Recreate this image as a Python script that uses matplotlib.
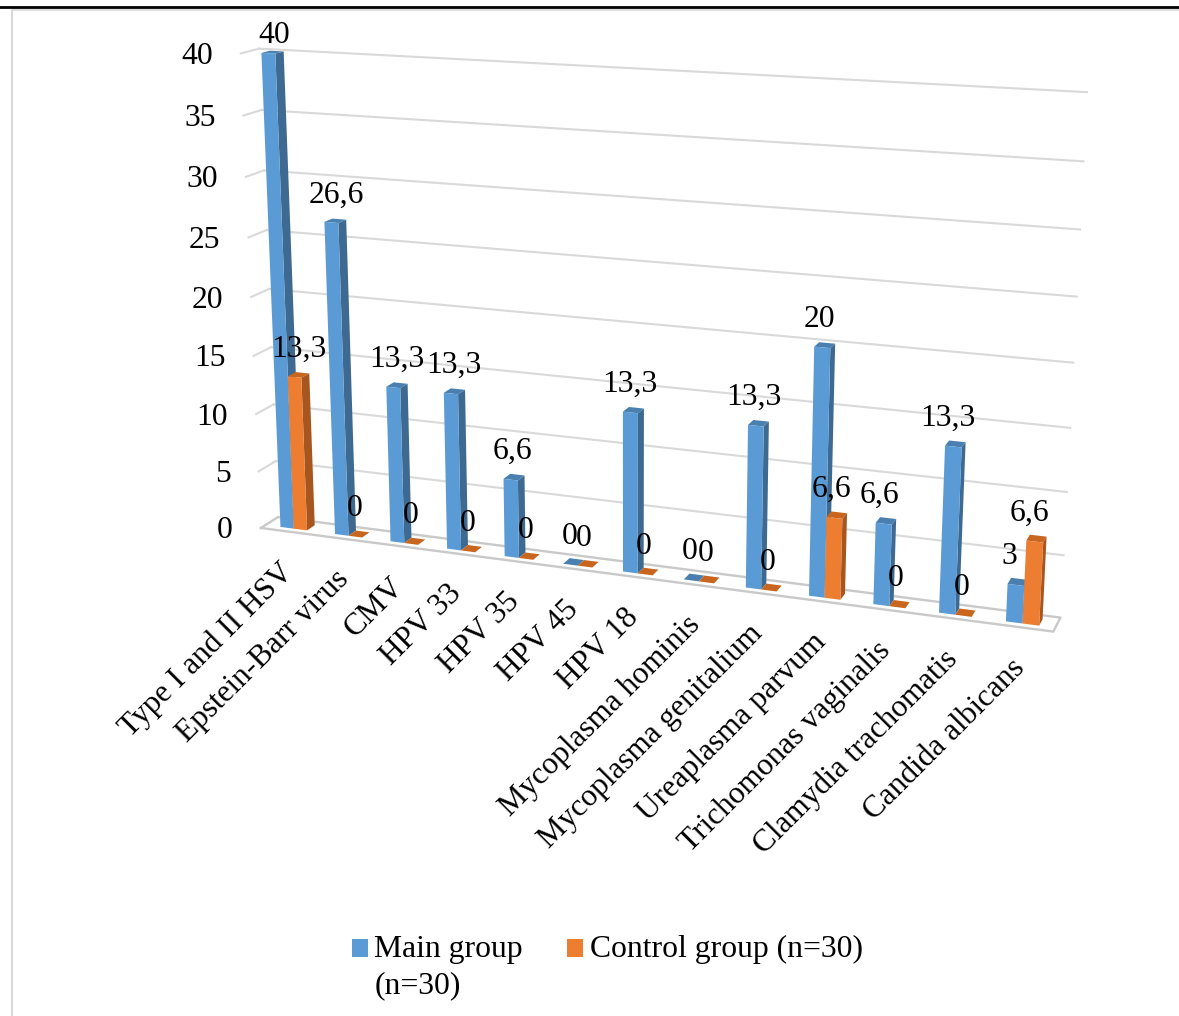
import numpy as np
import matplotlib
matplotlib.use('Agg')
import matplotlib.pyplot as plt
from matplotlib.patches import Rectangle

plt.rcParams['font.family'] = ['Liberation Serif', 'DejaVu Serif']

categories = ['Type I and II HSV', 'Epstein-Barr virus', 'CMV', 'HPV 33', 'HPV 35',
              'HPV 45', 'HPV 18', 'Mycoplasma hominis', 'Mycoplasma genitalium',
              'Ureaplasma parvum', 'Trichomonas vaginalis', 'Clamydia trachomatis',
              'Candida albicans']
main_group = [40, 26.6, 13.3, 13.3, 6.6, 0, 13.3, 0, 13.3, 20, 6.6, 13.3, 3]
control_group = [13.3, 0, 0, 0, 0, 0, 0, 0, 0, 6.6, 0, 0, 6.6]
value_ticks = [0, 5, 10, 15, 20, 25, 30, 35, 40]

W, H = 1179, 1016
FS = 22.8
GRID = '#D9D9D9'
FLOOR = '#C9C9C9'
BLUE = ('#5B9BD5', '#4A80B0', '#3E6A92')    # front, top, side
ORANGE = ('#ED7D31', '#C8651F', '#A8561F')
BAR_W = 0.245
BAR_SHIFT = 0.02
BAR_Y0, BAR_DY = 0.27, 0.46

# scene corners (category, depth, value) and where the camera puts them
scene_pts = [(0, 1, 0), (13, 1, 0), (0, 1, 40), (13, 1, 40), (13, 1, 20),
             (0, 0, 0), (13, 0, 0), (0, 0, 40)]
screen_pts = [(277, 517), (1060, 617), (260, 49), (1086, 92), (1075, 363),
              (262, 528), (1053, 632), (240, 53)]


def SolveCamera(scene, screen):
    rows, rhs = [], []
    for (X, Y, Z), (u, v) in zip(scene, screen):
        rows.append([X, Y, Z, 1, 0, 0, 0, 0, -u*X, -u*Y, -u*Z])
        rows.append([0, 0, 0, 0, X, Y, Z, 1, -v*X, -v*Y, -v*Z])
        rhs += [u, v]
    p = np.linalg.lstsq(np.array(rows, float), np.array(rhs, float), rcond=None)[0]
    return np.append(p, 1.0).reshape(3, 4)


CAM = SolveCamera(scene_pts, screen_pts)


def ToPixels(x, y, z):
    u, v, w = CAM @ np.array([x, y, z, 1.0])
    return u/w, v/w


fig = plt.figure(figsize=(W/100, H/100), dpi=100)
ax = fig.add_axes([0, 0, 1, 1], projection='3d')
ax.set_axis_off()
ax.computed_zorder = False
# ortho switches off the behind-the-camera masking of lines
ax.set_proj_type('ortho')


def CameraMatrix():
    # pixels (y down) -> display (y up) -> the 2d data space of the 3d axes
    flip = np.array([[1, 0, 0], [0, -1, H], [0, 0, 1.0]])
    A = ax.transData.inverted().get_matrix() @ flip @ CAM
    return np.array([A[0], A[1], [0, 0.01, 0, 0], A[2]])


ax.get_proj = CameraMatrix

# back wall and left wall gridlines
for v in value_ticks[1:]:
    ax.plot([0, 13], [1, 1], [v, v], color=GRID, lw=1.5, zorder=1)
    ax.plot([0, 0], [0, 1], [v, v], color=GRID, lw=1.5, zorder=1)

# floor outline
ax.plot([0, 13, 13, 0, 0], [0, 0, 1, 1, 0], [0, 0, 0, 0, 0], color=FLOOR, lw=1.7, zorder=1)


def Bar(x, h, cols, order):
    front, top, side = cols
    # bar3d face order: -z +z -y +y -x +x, only three of them can be seen
    faces = ['none', top, front, 'none', 'none', side]
    ax.bar3d([x], [BAR_Y0], [0], [BAR_W], [BAR_DY], [h], color=faces, shade=False, zorder=order)


gap = (1 - 2*BAR_W)/2 + BAR_SHIFT
for i in range(len(categories)):
    Bar(i + gap, main_group[i], BLUE, 2 + 2*i)
    Bar(i + gap + BAR_W, control_group[i], ORANGE, 3 + 2*i)

# everything flat goes on a pixel-sized overlay
over = fig.add_axes([0, 0, 1, 1])
over.set_xlim(0, W)
over.set_ylim(H, 0)
over.axis('off')
over.patch.set_visible(False)

over.plot([0, W], [7, 7], color='black', lw=2.0)
over.plot([11.5, W], [10, 10], color=GRID, lw=1.2)
over.plot([11.5, 11.5], [10, H], color=GRID, lw=1.5)

for v in value_ticks:
    u, w = ToPixels(0, 0, v)
    over.text(u - 28, w + 3, str(v), ha='right', va='center', fontsize=FS)

for i, name in enumerate(categories):
    u, w = ToPixels(i + 0.5, 0, 0)
    over.text(u - 9, w + 26, name, ha='right', va='top', rotation=45,
              rotation_mode='anchor', fontsize=FS - 0.3)


def ValueLabel(x, val, shift):
    u, w = ToPixels(x, BAR_Y0 + BAR_DY/2, val)
    over.text(u + shift, max(w - 25.5, 35.5), f'{val:g}'.replace('.', ','),
              ha='center', va='center', fontsize=FS)


for i in range(len(categories)):
    # labels drift left of their bars towards the right hand side, zero ones do not
    s = 2 - 0.85*i if main_group[i] else -4
    ValueLabel(i + gap + BAR_W/2, main_group[i], s)
    s = -0.6*i if control_group[i] else -4
    ValueLabel(i + gap + 1.5*BAR_W, control_group[i], s)

# legend
over.add_patch(Rectangle((351.5, 938.5), 16, 18, color=BLUE[0], lw=0))
over.text(374.5, 949, 'Main group', va='center', fontsize=FS)
over.text(374.5, 986, '(n=30)', va='center', fontsize=FS)
over.add_patch(Rectangle((566.5, 938.5), 16, 18, color=ORANGE[0], lw=0))
over.text(590, 949, 'Control group (n=30)', va='center', fontsize=FS)

fig.savefig('out.png', dpi=100)
